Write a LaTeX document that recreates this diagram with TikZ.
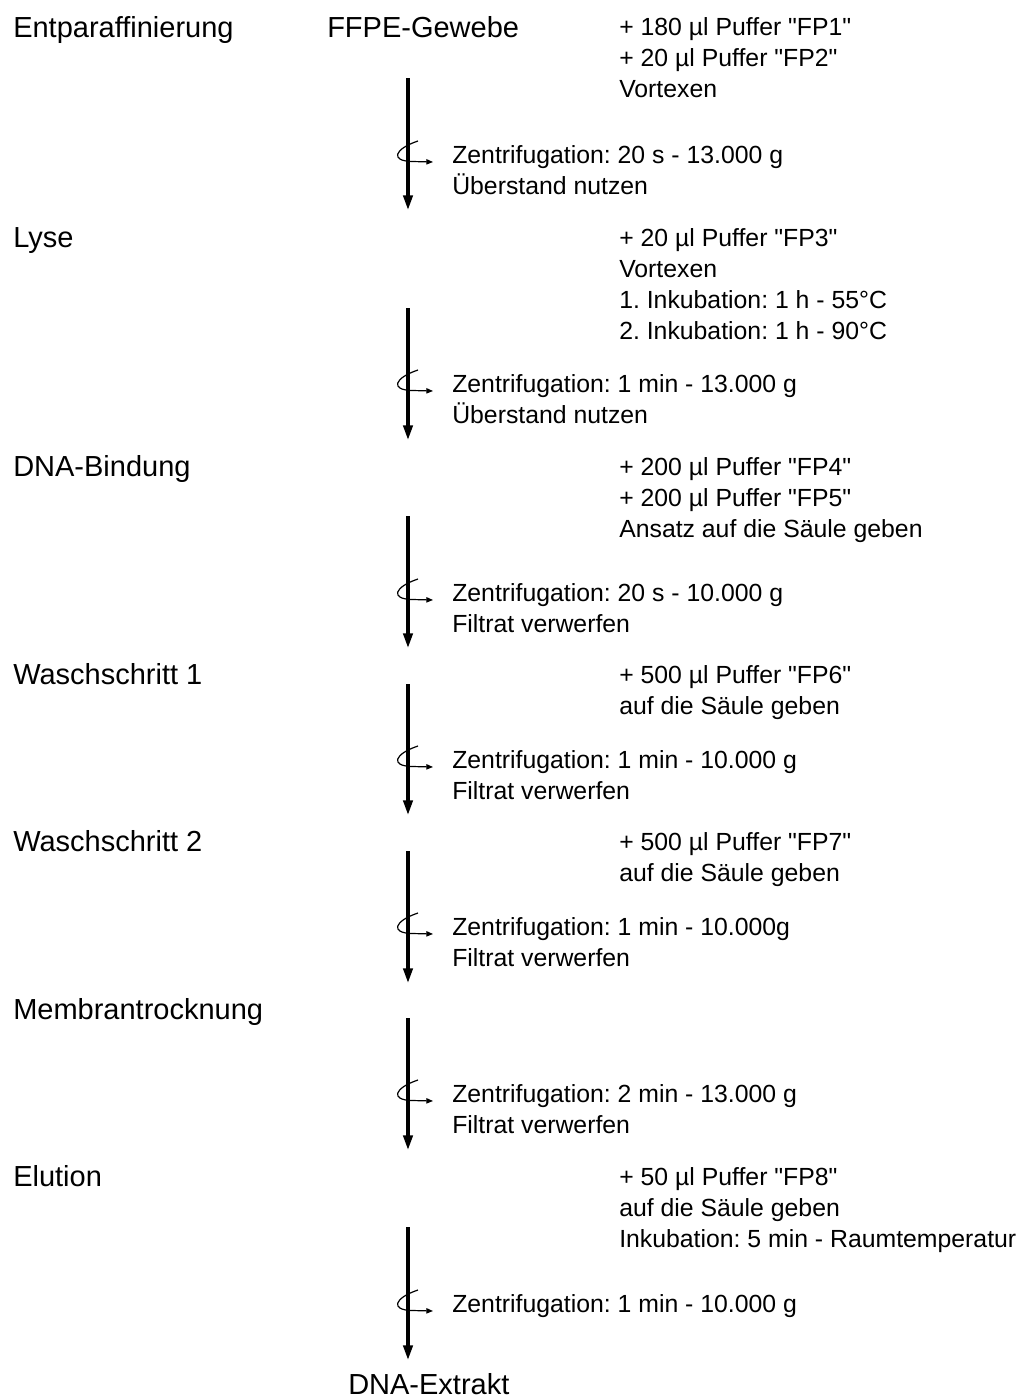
\documentclass[tikz,border=0pt]{standalone}
\usepackage{fontspec}
\setmainfont{Liberation Sans}[Ligatures=TeXOff]
\usetikzlibrary{arrows.meta}
\frenchspacing
\newcommand{\hfont}{\fontsize{21.75}{25}\selectfont}
\newcommand{\bfont}{\fontsize{18.6}{23.25}\selectfont}
\newcommand{\mlines}[1]{\begin{tabular}[t]{@{}l@{}}#1\end{tabular}}
\tikzset{
  head/.style={anchor=base west, inner sep=0pt, font=\hfont},
  body/.style={anchor=base west, inner sep=0pt, font=\bfont},
  flow/.style={line width=2.4pt, -{Triangle[length=11pt,width=7pt]}},
  spin/.style={line width=0.9pt, -{Triangle[length=5pt,width=4pt]}},
  spinpic/.pic={\draw[spin] (10,-13) .. controls (-14,-5) and (-18,7) .. (4,7.5) -- (25,8);}
}
\begin{document}
\begin{tikzpicture}[x=0.75pt,y=-0.75pt]
\useasboundingbox (0,0) rectangle (1026,1399);

% left step labels
\node[head] (l1) at (13,37) {Entparaffinierung};
\node[head] (l2) at (13,247) {Lyse};
\node[head] (l3) at (13,476) {DNA-Bindung};
\node[head] (l4) at (13,684) {Waschschritt 1};
\node[head] (l5) at (13,851) {Waschschritt 2};
\node[head] (l6) at (13,1019) {Membrantrocknung};
\node[head] (l7) at (13,1186) {Elution};

% start / end
\node[head] (start) at (327,37) {FFPE-Gewebe};
\node[head] (end) at (348,1394) {DNA-Extrakt};

% additions
\node[body] (r1) at (619,36) {\mlines{+ 180 µl Puffer "FP1"\\+ 20 µl Puffer "FP2"\\Vortexen}};
\node[body] (r2) at (619,246) {\mlines{+ 20 µl Puffer "FP3"\\Vortexen\\1. Inkubation: 1 h - 55°C\\2. Inkubation: 1 h - 90°C}};
\node[body] (r3) at (619,475) {\mlines{+ 200 µl Puffer "FP4"\\+ 200 µl Puffer "FP5"\\Ansatz auf die Säule geben}};
\node[body] (r4) at (619,683) {\mlines{+ 500 µl Puffer "FP6"\\auf die Säule geben}};
\node[body] (r5) at (619,850) {\mlines{+ 500 µl Puffer "FP7"\\auf die Säule geben}};
\node[body] (r7) at (619,1185) {\mlines{+ 50 µl Puffer "FP8"\\auf die Säule geben\\Inkubation: 5 min - Raumtemperatur}};

% centrifugation
\node[body] (c1) at (452,163) {\mlines{Zentrifugation: 20 s - 13.000 g\\Überstand nutzen}};
\node[body] (c2) at (452,392) {\mlines{Zentrifugation: 1 min - 13.000 g\\Überstand nutzen}};
\node[body] (c3) at (452,601) {\mlines{Zentrifugation: 20 s - 10.000 g\\Filtrat verwerfen}};
\node[body] (c4) at (452,768) {\mlines{Zentrifugation: 1 min - 10.000 g\\Filtrat verwerfen}};
\node[body] (c5) at (452,935) {\mlines{Zentrifugation: 1 min - 10.000g\\Filtrat verwerfen}};
\node[body] (c6) at (452,1102) {\mlines{Zentrifugation: 2 min - 13.000 g\\Filtrat verwerfen}};
\node[body] (c7) at (452,1312) {\mlines{Zentrifugation: 1 min - 10.000 g}};

% flow arrows
\foreach \i/\a/\b in {1/78/210, 2/308/440, 3/516/648, 4/684/815, 5/851/983, 6/1018/1150, 7/1227/1360}{
  \coordinate (s\i) at (408,\a);
  \coordinate (e\i) at (408,\b);
  \draw[flow] (s\i) -- (e\i);
}

% spin symbols
\foreach \cy in {154,383,592,759,926,1093,1303}{
  \pic at (408,\cy) {spinpic};
}
\end{tikzpicture}
\end{document}
